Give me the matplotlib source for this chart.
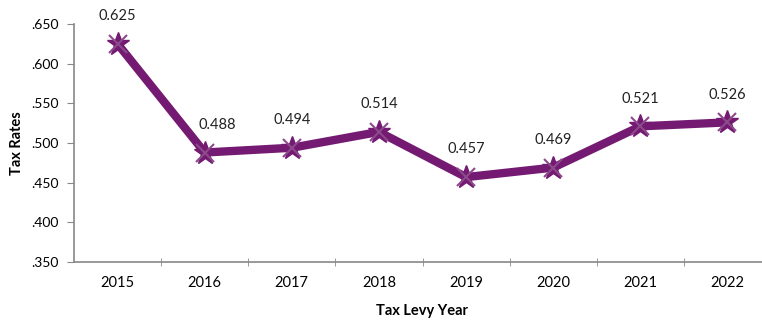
import matplotlib
matplotlib.use("Agg")
import matplotlib.pyplot as plt
from matplotlib.ticker import FuncFormatter, FixedLocator

years = ["2015", "2016", "2017", "2018", "2019", "2020", "2021", "2022"]
rates = [0.625, 0.488, 0.494, 0.514, 0.457, 0.469, 0.521, 0.526]
yticks = [0.350, 0.400, 0.450, 0.500, 0.550, 0.600, 0.650]

plt.rcParams["font.family"] = ["Lato", "DejaVu Sans"]

fig = plt.figure(figsize=(7.62, 3.21), dpi=100)
ax = fig.add_axes([74 / 762, 1 - 262 / 321, 697 / 762, 238 / 321])

x = list(range(len(years)))
color = "#741a72"
ax.plot(x, rates, color=color, lw=6, solid_capstyle="round", zorder=3)
ax.plot(x, rates, ls="none", marker="*", ms=17, color=color, zorder=4)
ax.plot(x, rates, ls="none", marker="x", ms=13, mew=1.5, color="#8c4a8a", zorder=4)

label_shift = {1: 9}
for xi, v in zip(x, rates):
    ax.annotate(f"{v:.3f}", (xi, v), xytext=(label_shift.get(xi, 0), 15),
                textcoords="offset points", ha="center", va="bottom",
                fontsize=10.5, color="#222222")

ax.set_xlim(-0.5, len(years) - 0.5)
ax.set_ylim(0.350, 0.650)
ax.set_yticks(yticks)
ax.yaxis.set_major_formatter(FuncFormatter(lambda v, p: f"{v:.3f}".lstrip("0")))
ax.set_xticks(x)
ax.set_xticklabels(years)
ax.xaxis.set_minor_locator(FixedLocator([i + 0.5 for i in x[:-1]]))

for s in ("top", "right"):
    ax.spines[s].set_visible(False)
for s in ("left", "bottom"):
    ax.spines[s].set_color("#888888")
    ax.spines[s].set_linewidth(1.2)

ax.tick_params(axis="y", direction="out", length=5, color="#888888", labelsize=10, pad=6)
ax.tick_params(axis="x", which="major", length=0, labelsize=10.5, pad=10)
ax.tick_params(axis="x", which="minor", direction="inout", length=6, color="#888888")

ax.set_ylabel("Tax Rates", fontsize=10.5, fontweight="bold")
ax.yaxis.set_label_coords(-50 / 697, 0.5)
ax.set_xlabel("Tax Levy Year", fontsize=10.5, fontweight="bold", labelpad=10)

fig.savefig("out.png", dpi=100)
